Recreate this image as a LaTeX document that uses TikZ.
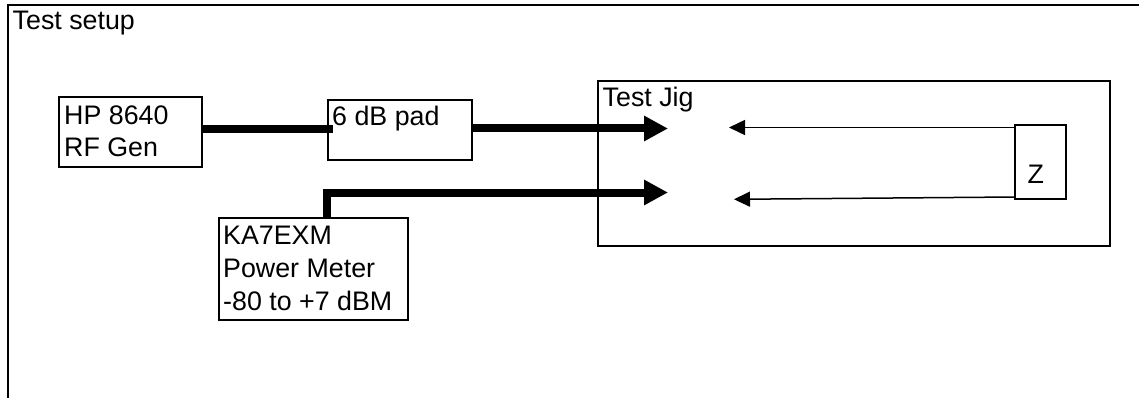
\documentclass[tikz,border=0pt]{standalone}
\usepackage{fontspec}
\setmainfont{Liberation Sans}
\usetikzlibrary{arrows.meta}
\begin{document}
\begin{tikzpicture}[x=1pt,y=-1pt,
  box/.style={draw, line width=1.5pt, inner sep=0pt, outer sep=0pt},
  lbl/.style={anchor=base west, inner sep=0pt, font=\fontsize{26.8}{32}\selectfont},
  cable/.style={line width=8pt},
  feed/.style={line width=8pt, line join=miter, -{Triangle[length=24pt,width=24pt]}},
  ret/.style={line width=1.5pt, -{Triangle[length=16pt,width=15pt]}}
]
\useasboundingbox (0,0) rectangle (1139,398);
\clip (0,0) rectangle (1139,398);

% outer frame of the whole setup (runs past the page edges)
\node[box, line width=1.8pt, minimum width=1200pt, minimum height=480pt, anchor=north west] (setup) at (8,5) {};
\node[lbl] (setuplbl) at (12.5,30) {Test setup};

% instruments
\node[box, minimum width=143pt, minimum height=70pt] (hp) at (130.5,132) {};
\node[lbl] (hp1) at (64,125) {HP 8640};
\node[lbl] (hp2) at (64,157) {RF Gen};

\node[box, minimum width=144pt, minimum height=60pt] (pad) at (400,130) {};
\node[lbl] (padlbl) at (332,126) {6 dB pad};

\node[box, minimum width=189pt, minimum height=102pt] (meter) at (313.5,269) {};
\node[lbl] (m1) at (223,244) {KA7EXM};
\node[lbl] (m2) at (223,277) {Power Meter};
\node[lbl] (m3) at (223,310) {-80 to +7 dBM};

% test jig with the load
\node[box, minimum width=512pt, minimum height=165pt] (jig) at (854,163.5) {};
\node[lbl] (jiglbl) at (602.5,107) {Test Jig};

\node[box, minimum width=51pt, minimum height=74pt] (z) at (1040.5,162) {};
\node[lbl] (zlbl) at (1027.5,183) {Z};

% jig ports
\coordinate (in1) at (668,128.5);
\coordinate (in2) at (668,192.5);
\coordinate (out1) at (729,127.5);
\coordinate (out2) at (734,199.3);

% cabling
\draw[cable] (hp.east |- 0,129) -- ([xshift=5pt]pad.west |- 0,129);
\draw[feed] (pad.east |- in1) -- (in1);
\draw[feed] ([xshift=108pt]meter.north west) |- (in2);

% return paths from the load
\draw[ret] (z.west |- out1) -- (out1);
\draw[ret] ([yshift=2pt]z.south west) -- (out2);
\end{tikzpicture}
\end{document}
